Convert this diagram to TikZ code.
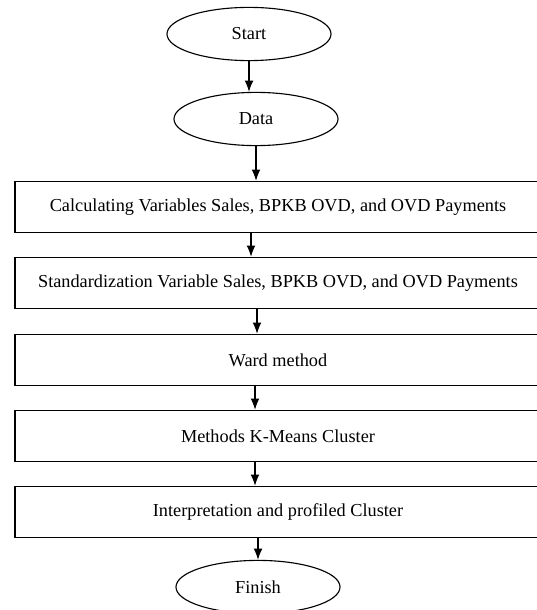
\documentclass[tikz,border=0pt]{standalone}
\usepackage{fontspec}
\setmainfont{Liberation Serif}
\usetikzlibrary{arrows.meta,shapes.geometric}
\tikzset{>={Latex[length=2.8mm,width=2.2mm]}}
\tikzstyle{terminal}=[ellipse,draw,line width=0.8pt,minimum width=4.1cm,minimum height=1.33cm,inner sep=0pt]
\tikzstyle{process}=[rectangle,draw,line width=1.2pt,minimum width=13.15cm,minimum height=1.27cm,inner sep=0pt]
\tikzstyle{flow}=[->,line width=0.8pt]

\begin{document}
\begin{tikzpicture}[x=0.025cm,y=-0.025cm,font=\fontsize{13}{15}\selectfont]
    \useasboundingbox (0,0) rectangle (537,610);

    \node[terminal] (start) at (249,34) {Start};
    \node[terminal] (data) at (256,119) {Data};

    \node[process] (box1) at (278,207) {Calculating Variables Sales, BPKB OVD, and OVD Payments};
    \node[process] (box2) at (278,283) {Standardization Variable Sales, BPKB OVD, and OVD Payments};
    \node[process] (box3) at (278,360) {Ward method};
    \node[process] (box4) at (278,436) {Methods K-Means Cluster};
    \node[process] (box5) at (278,512) {Interpretation and profiled Cluster};

    \node[terminal] (finish) at (258,587) {Finish};

    \draw[flow] (start) -- (start.south |- data.north);
    \draw[flow] (data) -- (data.south |- box1.north);
    \foreach \i/\j/\x in {1/2/251, 2/3/257, 3/4/255, 4/5/255} {
        \draw[flow] (box\i.south -| \x,0) -- (box\j.north -| \x,0);
    };
    \draw[flow] (box5.south -| finish.north) -- (finish);
\end{tikzpicture}
\end{document}
